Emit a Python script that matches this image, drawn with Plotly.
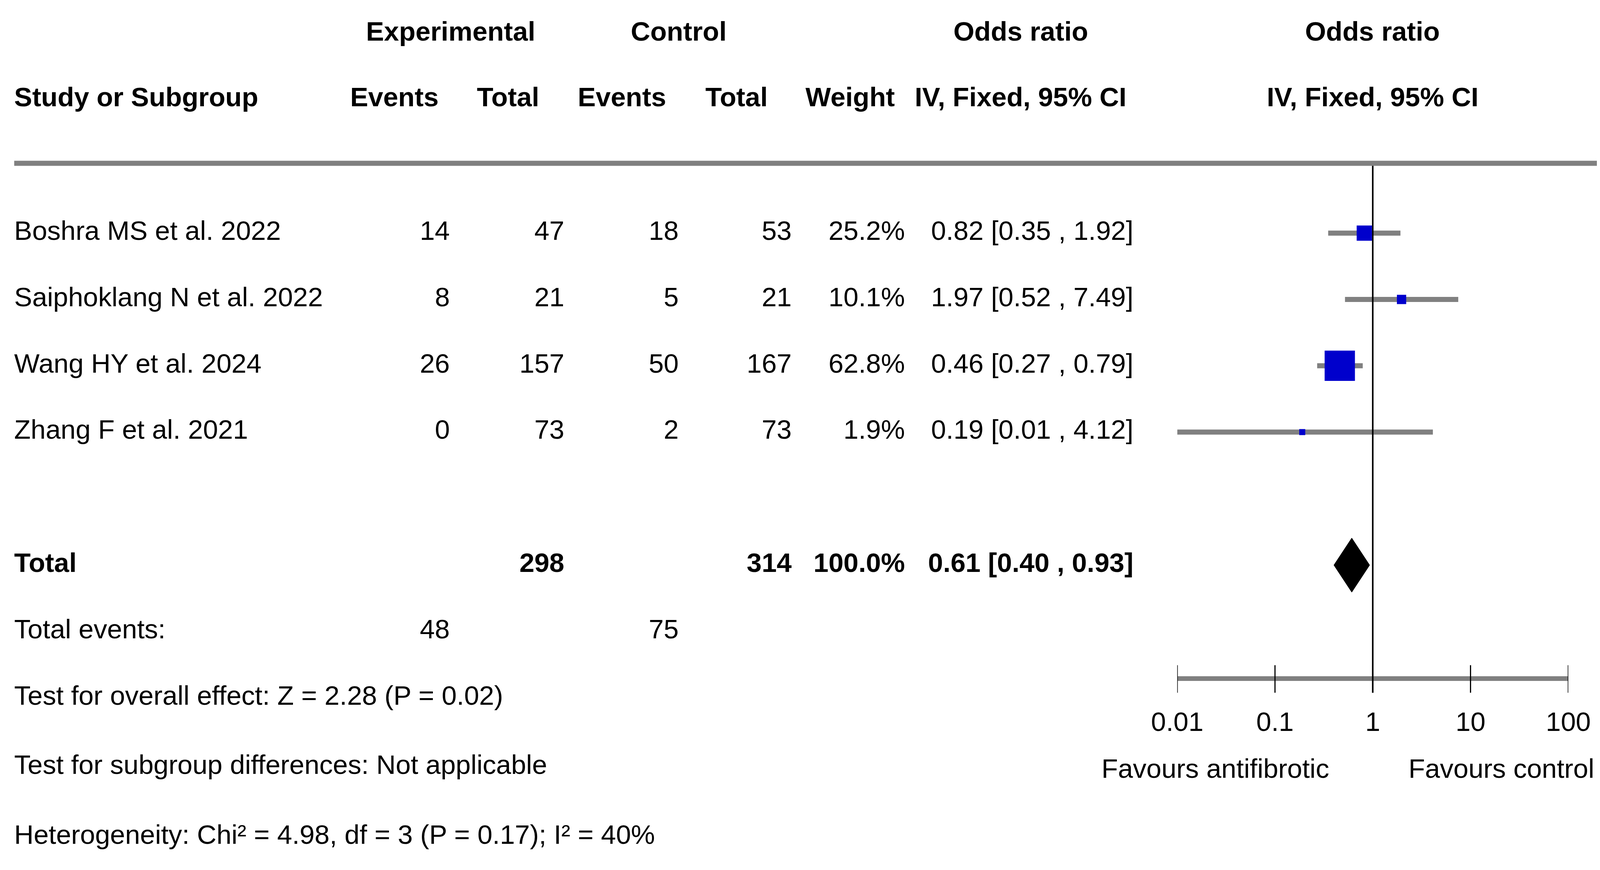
import plotly.graph_objects as go

# data
studies = ["Boshra MS et al. 2022", "Saiphoklang N et al. 2022", "Wang HY et al. 2024", "Zhang F et al. 2021"]
exp_events = [14, 8, 26, 0]
exp_total = [47, 21, 157, 73]
ctrl_events = [18, 5, 50, 2]
ctrl_total = [53, 21, 167, 73]
weights = [25.2, 10.1, 62.8, 1.9]
or_est = [0.82, 1.97, 0.46, 0.19]
ci_low = [0.35, 0.52, 0.27, 0.01]
ci_high = [1.92, 7.49, 0.79, 4.12]
pooled = [0.61, 0.40, 0.93]
tick_vals = [0.01, 0.1, 1, 10, 100]
tick_text = ["0.01", "0.1", "1", "10", "100"]
footer = ["Test for overall effect: Z = 2.28 (P = 0.02)",
          "Test for subgroup differences: Not applicable",
          "Heterogeneity: Chi² = 4.98, df = 3 (P = 0.17); I² = 40%"]

# the text axes use the reference frame (7193 x 2227); the page itself is narrower
REF_W, REF_H = 7193, 2227
W, H = 4080, 2211
FONT = "Liberation Sans, Arial, Helvetica, sans-serif"
FS = 69
GREY = "#808080"

# layout positions in reference units
row_y = [593 + i * 171 for i in range(len(studies))]
total_y, events_y = 1449, 1620
footer_y = [1792, 1970, 2150]
head1_y, head2_y, rule_y = 79, 249, 413
axis_y = 1742
x_label = 50
col_right = {"ee": 2016, "et": 2533, "ce": 3049, "ct": 3559, "w": 4070, "ci": 5101}
plot_x0, plot_x1 = 5299, 7064

fig = go.Figure()


def text_col(xs, ys, texts, pos, bold=False):
    t = ["<b>%s</b>" % s for s in texts] if bold else texts
    fig.add_trace(go.Scatter(x=xs, y=ys, text=t, mode="text", textposition=pos,
                             textfont=dict(family=FONT, size=FS, color="black"),
                             cliponaxis=False, hoverinfo="skip", showlegend=False,
                             xaxis="x", yaxis="y"))


# headers
text_col([2020, 3049, 4593, 6180], [head1_y] * 4,
         ["Experimental", "Control", "Odds ratio", "Odds ratio"], "middle center", bold=True)
text_col([x_label], [head2_y], ["Study or Subgroup"], "middle right", bold=True)
text_col([1766, 2279, 2793, 3310, 3823, 4592, 6181], [head2_y] * 7,
         ["Events", "Total", "Events", "Total", "Weight", "IV, Fixed, 95% CI", "IV, Fixed, 95% CI"],
         "middle center", bold=True)

# study rows
ci_text = ["%.2f [%.2f , %.2f]" % (o, l, h) for o, l, h in zip(or_est, ci_low, ci_high)]
text_col([x_label] * 4, row_y, studies, "middle right")
text_col([col_right["ee"]] * 4, row_y, [str(v) for v in exp_events], "middle left")
text_col([col_right["et"]] * 4, row_y, [str(v) for v in exp_total], "middle left")
text_col([col_right["ce"]] * 4, row_y, [str(v) for v in ctrl_events], "middle left")
text_col([col_right["ct"]] * 4, row_y, [str(v) for v in ctrl_total], "middle left")
text_col([col_right["w"]] * 4, row_y, ["%.1f%%" % w for w in weights], "middle left")
text_col([col_right["ci"]] * 4, row_y, ci_text, "middle left")

# totals
text_col([x_label], [total_y], ["Total"], "middle right", bold=True)
text_col([col_right["et"], col_right["ct"], col_right["w"], col_right["ci"]], [total_y] * 4,
         [str(sum(exp_total)), str(sum(ctrl_total)), "%.1f%%" % sum(weights),
          "%.2f [%.2f , %.2f]" % tuple(pooled)], "middle left", bold=True)
text_col([x_label], [events_y], ["Total events:"], "middle right")
text_col([col_right["ee"], col_right["ce"]], [events_y] * 2,
         [str(sum(exp_events)), str(sum(ctrl_events))], "middle left")
text_col([x_label] * 3, footer_y, footer, "middle right")

# favours labels
text_col([5471, 6762], [1980, 1980], ["Favours antifibrotic", "Favours control"], "middle center")


def forest(**kw):
    fig.add_trace(go.Scatter(hoverinfo="skip", showlegend=False, cliponaxis=False,
                             xaxis="x2", yaxis="y", **kw))


# confidence interval whiskers
ci_x, ci_y = [], []
for l, h, y in zip(ci_low, ci_high, row_y):
    ci_x += [l, h, None]
    ci_y += [y, y, None]
forest(x=ci_x, y=ci_y, mode="lines", line=dict(color=GREY, width=13))

# line of no effect
forest(x=[1, 1], y=[rule_y, axis_y + 36], mode="lines", line=dict(color="black", width=4))

# study squares sized by weight
forest(x=or_est, y=row_y, mode="markers",
       marker=dict(symbol="square", color="#0000CC", opacity=1,
                   size=[0.75 * (18 + 1.36 * w) for w in weights], line=dict(width=0)))

# pooled diamond
half = 70
forest(x=[pooled[1], pooled[0], pooled[2], pooled[0], pooled[1]],
       y=[total_y, total_y - half, total_y, total_y + half, total_y],
       mode="lines", fill="toself", fillcolor="black", line=dict(color="black", width=1))

# tick marks crossing the axis line
tk_x, tk_y = [], []
for t in tick_vals:
    tk_x += [t, t, None]
    tk_y += [axis_y - 35, axis_y + 36, None]
forest(x=tk_x, y=tk_y, mode="lines", line=dict(color="black", width=3))

fig.update_layout(
    width=W, height=H,
    margin=dict(l=0, r=0, t=0, b=0, pad=0, autoexpand=False),
    paper_bgcolor="white", plot_bgcolor="rgba(0,0,0,0)",
    xaxis=dict(range=[0, REF_W], domain=[0, 1], visible=False, fixedrange=True,
               automargin=False),
    yaxis=dict(range=[REF_H, 0], domain=[0, 1], visible=False, fixedrange=True,
               automargin=False),
    xaxis2=dict(type="log", range=[-2, 2], domain=[plot_x0 / REF_W, plot_x1 / REF_W],
                anchor="free", position=(REF_H - axis_y) / REF_H, automargin=False,
                showline=True, linecolor=GREY, linewidth=12, layer="below traces",
                ticks="", tickvals=tick_vals, ticktext=tick_text, ticklabelstandoff=45,
                tickfont=dict(family=FONT, size=FS, color="black"),
                showgrid=False, zeroline=False, fixedrange=True),
    shapes=[dict(type="line", xref="x", yref="y", x0=x_label, x1=REF_W, y0=rule_y, y1=rule_y,
                 line=dict(color=GREY, width=13))],
)

fig.write_html("out.html")
